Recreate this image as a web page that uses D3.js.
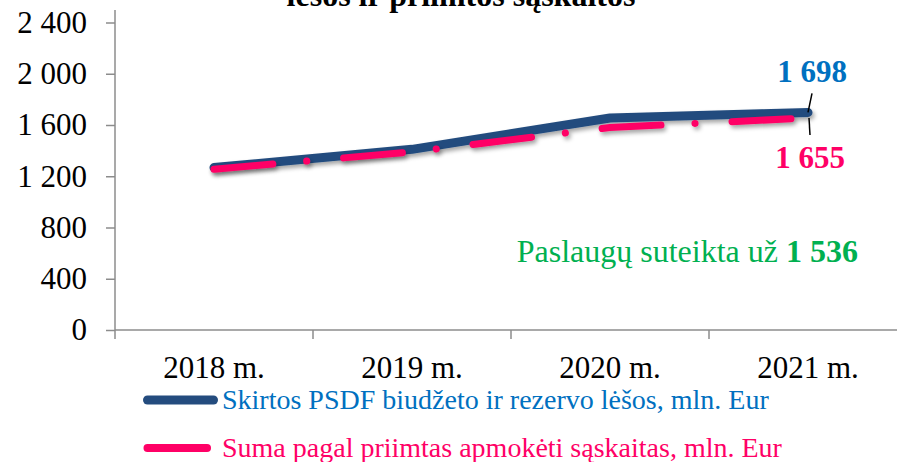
<!DOCTYPE html>
<html>
<head>
<meta charset="utf-8">
<script src="https://cdn.jsdelivr.net/npm/d3@7"></script>
<style>
  body { margin: 0; background: #fff; }
  svg { display: block; font-family: "Liberation Serif", "Times New Roman", serif; }
</style>
</head>
<body>
<div class="chart"></div>
<script>
/*------------------------------- data -------------------------------*/

const years = ["2018 m.", "2019 m.", "2020 m.", "2021 m."];
const allocated = [1268, 1410, 1655, 1698];   // Skirtos PSDF biudžeto ir rezervo lėšos
const invoices = [1255, 1390, 1580, 1655];    // Suma pagal priimtas apmokėti sąskaitas
const yTicks = [0, 400, 800, 1200, 1600, 2000, 2400];
const servicesValue = 1536;

const seriesNames = [
    "Skirtos PSDF biudžeto ir rezervo lėšos, mln. Eur",
    "Suma pagal priimtas apmokėti sąskaitas, mln. Eur"
];

/*------------------------------- init -------------------------------*/

const size = { width: 897, height: 462 };
const colors = {
    blueLine: "#244c7e",
    blueText: "#0070c0",
    pink: "#ff0066",
    green: "#00b050",
    axis: "#8c8c8c"
};

const svg = d3.select(".chart").append("svg")
    .attr("width", size.width)
    .attr("height", size.height);

const defs = svg.append("defs");
defs.append("filter").attr("id", "shadow")
    .attr("x", "-10%").attr("y", "-50%").attr("width", "120%").attr("height", "200%")
    .append("feDropShadow")
    .attr("dx", 2).attr("dy", 3).attr("stdDeviation", 2)
    .attr("flood-color", "#000").attr("flood-opacity", 0.35);

const fmt = d3.formatLocale({ decimal: ",", thousands: " ", grouping: [3], currency: ["", ""] }).format(",");

const x = d3.scaleBand().domain(years).range([115, 907]).paddingInner(0).paddingOuter(0);
const y = d3.scaleLinear().domain([0, 2400]).range([330, 22.5]);
const cx = d => x(d) + x.bandwidth() / 2;

// title, only its lower part shows at the top edge (as in the source image)
svg.append("text")
    .attr("x", 461).attr("y", 6)
    .attr("text-anchor", "middle")
    .style("font-size", "32px").style("font-weight", "bold")
    .text("lėšos ir priimtos sąskaitos");

/*------------------------------- axes -------------------------------*/

const yAxis = svg.append("g")
    .attr("transform", "translate(115,0)")
    .call(d3.axisLeft(y).tickValues(yTicks).tickFormat(fmt).tickSize(9).tickPadding(19).tickSizeOuter(0));
yAxis.select(".domain").remove();
yAxis.selectAll(".tick line").attr("stroke", colors.axis).attr("stroke-width", 1.5);
yAxis.selectAll(".tick text")
    .style("font-size", "31px").style("font-family", "Liberation Serif, serif").attr("fill", "#000");
svg.append("line")
    .attr("x1", 115).attr("x2", 115).attr("y1", 10).attr("y2", 330)
    .attr("stroke", colors.axis).attr("stroke-width", 1.5);

// x axis
svg.append("line")
    .attr("x1", 115).attr("x2", size.width).attr("y1", 330).attr("y2", 330)
    .attr("stroke", colors.axis).attr("stroke-width", 1.5);
svg.append("g").selectAll("line")
    .data(years.map(d => x(d)).concat([x.range()[1]]))
    .enter().append("line")
    .attr("x1", d => d).attr("x2", d => d).attr("y1", 330).attr("y2", 339)
    .attr("stroke", colors.axis).attr("stroke-width", 1.5);
svg.append("g").selectAll("text")
    .data(years)
    .enter().append("text")
    .attr("x", d => cx(d)).attr("y", 378)
    .attr("text-anchor", "middle")
    .style("font-size", "31px")
    .text(d => d);

/*------------------------------- lines -------------------------------*/

const line = d3.line().x((d, i) => cx(years[i])).y(d => y(d));

svg.append("path")
    .datum(allocated)
    .attr("d", line)
    .attr("fill", "none")
    .attr("stroke", colors.blueLine)
    .attr("stroke-width", 9)
    .attr("stroke-linecap", "round")
    .attr("stroke-linejoin", "round")
    .attr("filter", "url(#shadow)");

svg.append("path")
    .datum(invoices)
    .attr("d", line)
    .attr("fill", "none")
    .attr("stroke", colors.pink)
    .attr("stroke-width", 7)
    .attr("stroke-linecap", "round")
    .attr("stroke-dasharray", "59 34 0.1 37")
    .attr("filter", "url(#shadow)");

/*------------------------------- labels -------------------------------*/

const last = years.length - 1;
const lx = cx(years[last]);

svg.append("line")
    .attr("x1", lx + 4).attr("y1", y(allocated[last]) - 19)
    .attr("x2", lx).attr("y2", y(allocated[last]))
    .attr("stroke", "#000").attr("stroke-width", 1.5);
svg.append("text")
    .attr("x", lx + 4).attr("y", 82)
    .attr("text-anchor", "middle")
    .style("font-size", "31px").style("font-weight", "bold")
    .attr("fill", colors.blueText)
    .text(fmt(allocated[last]));

svg.append("line")
    .attr("x1", lx + 1).attr("y1", y(invoices[last]))
    .attr("x2", lx + 2).attr("y2", y(invoices[last]) + 17)
    .attr("stroke", "#000").attr("stroke-width", 1.5);
svg.append("text")
    .attr("x", lx + 2).attr("y", 168)
    .attr("text-anchor", "middle")
    .style("font-size", "31px").style("font-weight", "bold")
    .attr("fill", colors.pink)
    .text(fmt(invoices[last]));

const services = svg.append("text")
    .attr("x", 858).attr("y", 262)
    .attr("text-anchor", "end")
    .style("font-size", "32px")
    .attr("fill", colors.green);
services.append("tspan").text("Paslaugų suteikta už ");
services.append("tspan").style("font-weight", "bold").text(fmt(servicesValue));

/*------------------------------- legend -------------------------------*/

const legend = svg.append("g");
const legendItems = [
    { name: seriesNames[0], color: colors.blueLine, text: colors.blueText, w: 9, x2: 213.5, y: 400 },
    { name: seriesNames[1], color: colors.pink, text: colors.pink, w: 8, x2: 207, y: 448 }
];
legendItems.forEach(d => {
    legend.append("line")
        .attr("x1", 147.5).attr("x2", d.x2).attr("y1", d.y).attr("y2", d.y)
        .attr("stroke", d.color).attr("stroke-width", d.w).attr("stroke-linecap", "round");
    legend.append("text")
        .attr("x", 222).attr("y", d.y + 9)
        .style("font-size", "28px")
        .attr("fill", d.text)
        .text(d.name);
});
</script>
</body>
</html>
